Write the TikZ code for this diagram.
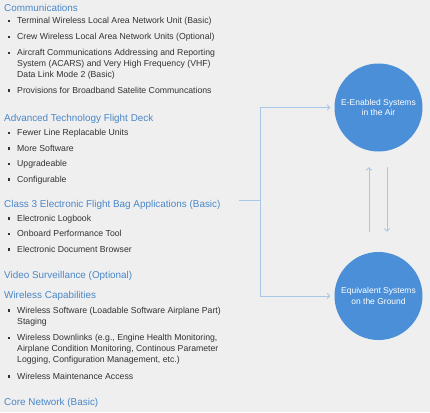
\documentclass[tikz,border=0pt]{standalone}
\usepackage{fontspec}
\setmainfont{Liberation Sans}
\usetikzlibrary{arrows.meta,calc}
\definecolor{bg}{HTML}{EFEFEF}
\definecolor{headblue}{HTML}{4A86C8}
\definecolor{txtgray}{HTML}{333333}
\definecolor{circblue}{HTML}{4A8FD8}
\definecolor{linkblue}{HTML}{A9C8E8}
\tikzset{
  head/.style={anchor=base west, inner sep=0pt, text=headblue, font=\fontsize{9.9}{12}\selectfont},
  item/.style={anchor=base west, inner sep=0pt, text=txtgray, font=\fontsize{8.7}{11}\selectfont},
  bul/.style={fill=txtgray, minimum size=2.4pt, inner sep=0pt, draw=none},
  sysnode/.style={circle, fill=circblue, minimum size=88pt, inner sep=0pt, text=white, align=center, font=\fontsize{8.5}{10.5}\selectfont},
  link/.style={draw=linkblue, line width=0.9pt},
  arr/.style={link, -{Straight Barb[length=2.5pt,width=5.5pt]}}
}
\newcommand{\itm}[3]{\node[bul] (b#1) at (9,#2-2.7) {}; \node[item] (t#1) at (17,#2) {#3};}
\newcommand{\cont}[3]{\node[item] (t#1) at (17,#2) {#3};}
\begin{document}
\begin{tikzpicture}[x=1pt,y=-1pt]
\fill[bg] (0,0) rectangle (430,412);
\useasboundingbox (0,0) rectangle (430,412);
% Communications
\node[head] (h1) at (4,11.5) {Communications};
\itm{a1}{24}{Terminal Wireless Local Area Network Unit (Basic)}
\itm{a2}{39.5}{Crew Wireless Local Area Network Units (Optional)}
\itm{a3}{55.5}{Aircraft Communications Addressing and Reporting}
\cont{a3b}{66.5}{System (ACARS) and Very High Frequency (VHF)}
\cont{a3c}{77.5}{Data Link Mode 2 (Basic)}
\itm{a4}{93}{Provisions for Broadband Satelite Communcations}
% Advanced
\node[head] (h2) at (4,121.5) {Advanced Technology Flight Deck};
\itm{c1}{135.5}{Fewer Line Replacable Units}
\itm{c2}{151}{More Software}
\itm{c3}{166.5}{Upgradeable}
\itm{c4}{182}{Configurable}
% Class 3
\node[head] (h3) at (4,207) {Class 3 Electronic Flight Bag Applications (Basic)};
\itm{d1}{221}{Electronic Logbook}
\itm{d2}{236.5}{Onboard Performance Tool}
\itm{d3}{252}{Electronic Document Browser}
% Video
\node[head] (h4) at (4,278) {Video Surveillance (Optional)};
% Wireless
\node[head] (h5) at (4,298) {Wireless Capabilities};
\itm{e1}{313}{Wireless Software (Loadable Software Airplane Part)}
\cont{e1b}{324}{Staging}
\itm{e2}{340.5}{Wireless Downlinks (e.g., Engine Health Monitoring,}
\cont{e2b}{351.5}{Airplane Condition Monitoring, Continous Parameter}
\cont{e2c}{362.5}{Logging, Configuration Management, etc.)}
\itm{e3}{379}{Wireless Maintenance Access}
% Core
\node[head] (h6) at (4,405) {Core Network (Basic)};
% circles
\node[sysnode] (air) at (378.5,107.5) {E-Enabled Systems\\in the Air};
\node[sysnode] (ground) at (378.5,296) {Equivalent Systems\\on the Ground};
% connectors
\coordinate (src) at (239,200);
\coordinate (junc) at (260,200);
\draw[link] (src) -- (junc);
\draw[arr] (junc) |- ([xshift=-4pt]air.west);
\draw[arr] (junc) |- ([xshift=-4pt]ground.west);
\coordinate (u1) at ($(air.south)+(-9.5,80)$);
\coordinate (u2) at ($(air.south)+(-9.5,15.5)$);
\coordinate (d1) at ($(air.south)+(8.5,15.5)$);
\coordinate (d2) at ($(air.south)+(8.5,80)$);
\draw[arr] (u1) -- (u2);
\draw[arr] (d1) -- (d2);
\end{tikzpicture}
\end{document}
